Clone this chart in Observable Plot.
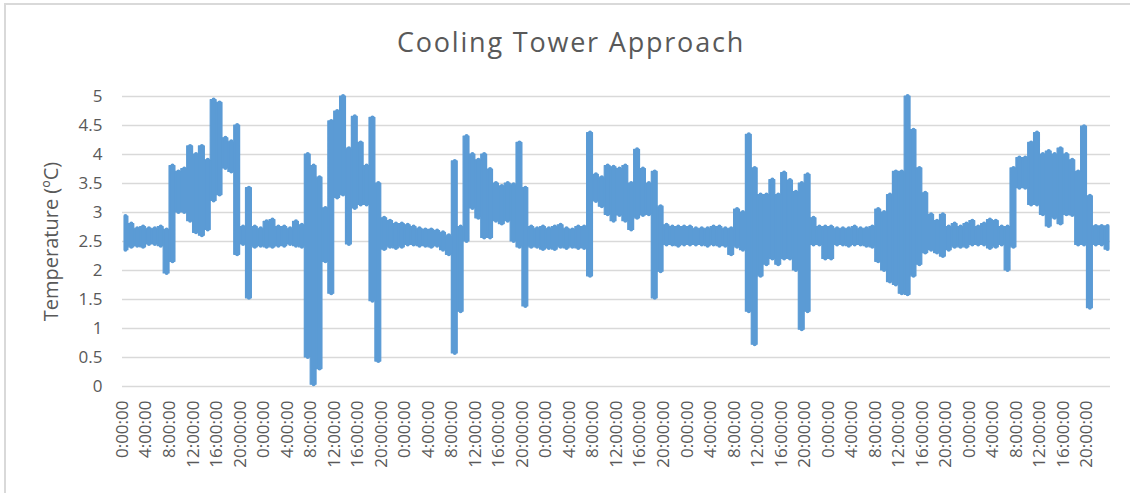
<!DOCTYPE html>
<html><head><meta charset="utf-8">
<script src="https://cdn.jsdelivr.net/npm/d3@7"></script>
<script src="https://cdn.jsdelivr.net/npm/@observablehq/plot@0.6"></script>
<style>
body{margin:0;background:#fff;}
#chart{position:relative;width:1130px;height:493px;overflow:hidden;font-family:"Open Sans",sans-serif;background:#fff;}
#frame{position:absolute;left:4px;top:3px;right:-10px;bottom:-10px;border-top:2px solid #d9d9d9;border-left:2px solid #d9d9d9;}
#title{position:absolute;top:25px;left:6px;width:1130px;text-align:center;font-size:27px;letter-spacing:1.8px;color:#595959;line-height:34px;}
#plot{position:absolute;left:0;top:60px;}
</style></head>
<body><div id="chart"><div id="frame"></div><div id="title"></div><div id="plot"></div></div>
<script>
const titleText = "Cooling Tower Approach";
const yLabel = "Temperature (ºC)";
const yTicks = [0, 0.5, 1, 1.5, 2, 2.5, 3, 3.5, 4, 4.5, 5];
const tickHours = [0,4,8,12,16,20, 24,28,32,36,40,44, 48,52,56,60,64,68, 72,76,80,84,88,92, 96,100,104,108,112,116, 120,124,128,132,136,140, 144,148,152,156,160,164];
const tickLabels = ["0:00:00","4:00:00","8:00:00","12:00:00","16:00:00","20:00:00"];

// per-hour upper and lower extremes of the approach temperature (°C), hours 0..167
const hiValues = [
  2.93,2.8,2.72,2.75,2.72,2.72,2.75,2.7,3.8,3.7,3.75,4.14,4.0,4.14,3.9,4.94,4.89,4.28,4.22,4.5,2.75,3.42,2.75,2.72,
  2.84,2.87,2.75,2.75,2.72,2.84,2.78,4.0,3.8,3.6,3.07,4.57,4.74,5.0,4.1,4.65,4.2,3.8,4.63,3.5,2.9,2.85,2.8,2.8,
  2.78,2.75,2.72,2.7,2.7,2.68,2.65,2.6,3.88,2.75,4.31,4.0,3.9,4.0,3.74,3.5,3.45,3.5,3.48,4.2,3.42,2.75,2.72,2.75,
  2.72,2.75,2.78,2.72,2.7,2.75,2.75,4.37,3.65,3.6,3.8,3.78,3.75,3.8,3.5,4.08,3.75,3.5,3.7,3.1,2.78,2.75,2.75,2.75,
  2.75,2.72,2.72,2.72,2.75,2.75,2.72,2.72,3.05,3.0,4.34,3.76,3.3,3.3,3.56,3.3,3.68,3.55,3.35,3.5,3.65,2.9,2.75,2.75,
  2.75,2.72,2.72,2.72,2.75,2.72,2.72,2.75,3.05,3.0,3.3,3.7,3.7,5.0,4.42,3.76,3.33,2.96,2.85,2.96,2.75,2.8,2.75,2.8,
  2.85,2.75,2.8,2.87,2.85,2.75,2.75,3.76,3.94,3.94,4.2,4.37,4.0,4.05,4.0,4.1,4.0,3.9,3.7,4.48,3.28,2.76,2.76,2.76
];
const loValues = [
  2.35,2.4,2.42,2.4,2.45,2.45,2.42,1.95,2.15,3.0,3.0,2.85,2.65,2.6,2.7,3.2,3.3,3.76,3.7,2.27,2.45,1.52,2.4,2.42,
  2.4,2.4,2.42,2.42,2.45,2.42,2.4,0.5,0.03,0.3,2.15,1.6,3.25,3.3,2.45,3.07,3.13,3.13,1.47,0.43,2.36,2.4,2.38,2.4,
  2.44,2.44,2.42,2.42,2.4,2.42,2.35,2.27,0.57,1.29,2.5,3.07,2.9,2.56,2.56,2.85,2.8,2.85,2.5,2.4,1.38,2.4,2.4,2.36,
  2.38,2.36,2.4,2.38,2.4,2.38,2.38,1.9,3.19,3.1,2.96,2.85,2.95,2.85,2.7,2.9,2.95,2.96,1.52,1.98,2.44,2.44,2.42,2.44,
  2.44,2.44,2.44,2.42,2.44,2.42,2.42,2.27,2.4,2.35,1.29,0.72,1.9,2.1,2.2,2.1,2.2,2.2,2.0,0.98,1.29,2.44,2.44,2.2,
  2.2,2.44,2.44,2.42,2.44,2.44,2.42,2.4,2.15,2.0,1.8,1.75,1.6,1.58,1.9,2.1,2.3,2.35,2.3,2.24,2.35,2.4,2.4,2.4,
  2.44,2.44,2.44,2.38,2.4,2.44,2.0,2.4,3.42,3.42,3.13,3.13,2.96,2.76,2.9,2.8,2.96,2.95,2.44,2.44,1.35,2.44,2.44,2.36
];

const rows = hiValues.map((h, i) => ({t: i + 0.5, hi: h, lo: loValues[i]}));

document.getElementById("title").textContent = titleText;
const font = "'Open Sans', sans-serif";
const blue = "#5b9bd5";
const chart = Plot.plot({
  width: 1130, height: 433,
  marginLeft: 122, marginRight: 20, marginTop: 36, marginBottom: 107,
  style: {fontFamily: font, color: "#595959", background: "transparent", overflow: "visible"},
  x: {domain: [0, 168]},
  y: {domain: [0, 5]},
  marks: [
    Plot.gridY(yTicks, {stroke: "#d9d9d9", strokeOpacity: 1, strokeWidth: 1.3}),
    Plot.axisY(yTicks, {tickSize: 0, tickPadding: 20, fontSize: 17, tickFormat: d => String(d), label: null, fill: "#595959"}),
    Plot.axisX(tickHours, {tickSize: 0, tickRotate: -90, tickPadding: 14, fontSize: 17, fill: "#595959",
      tickFormat: h => tickLabels[(h % 24) / 4], label: null}),
    Plot.areaY(rows, {x: "t", y1: "lo", y2: "hi", curve: "step", fill: blue, stroke: blue,
      strokeWidth: 1.2, strokeLinejoin: "round"}),
    Plot.ruleX(rows, {x: "t", y1: "lo", y2: "hi", stroke: blue, strokeWidth: 4, strokeLinecap: "round"}),
    Plot.text([yLabel], {frameAnchor: "left", rotate: -90, dx: -71, fontSize: 20, textAnchor: "middle",
      fill: "#595959", text: d => d, style: "letter-spacing:1.2px"})
  ]
});
document.getElementById("plot").appendChild(chart);
</script>
</body></html>
